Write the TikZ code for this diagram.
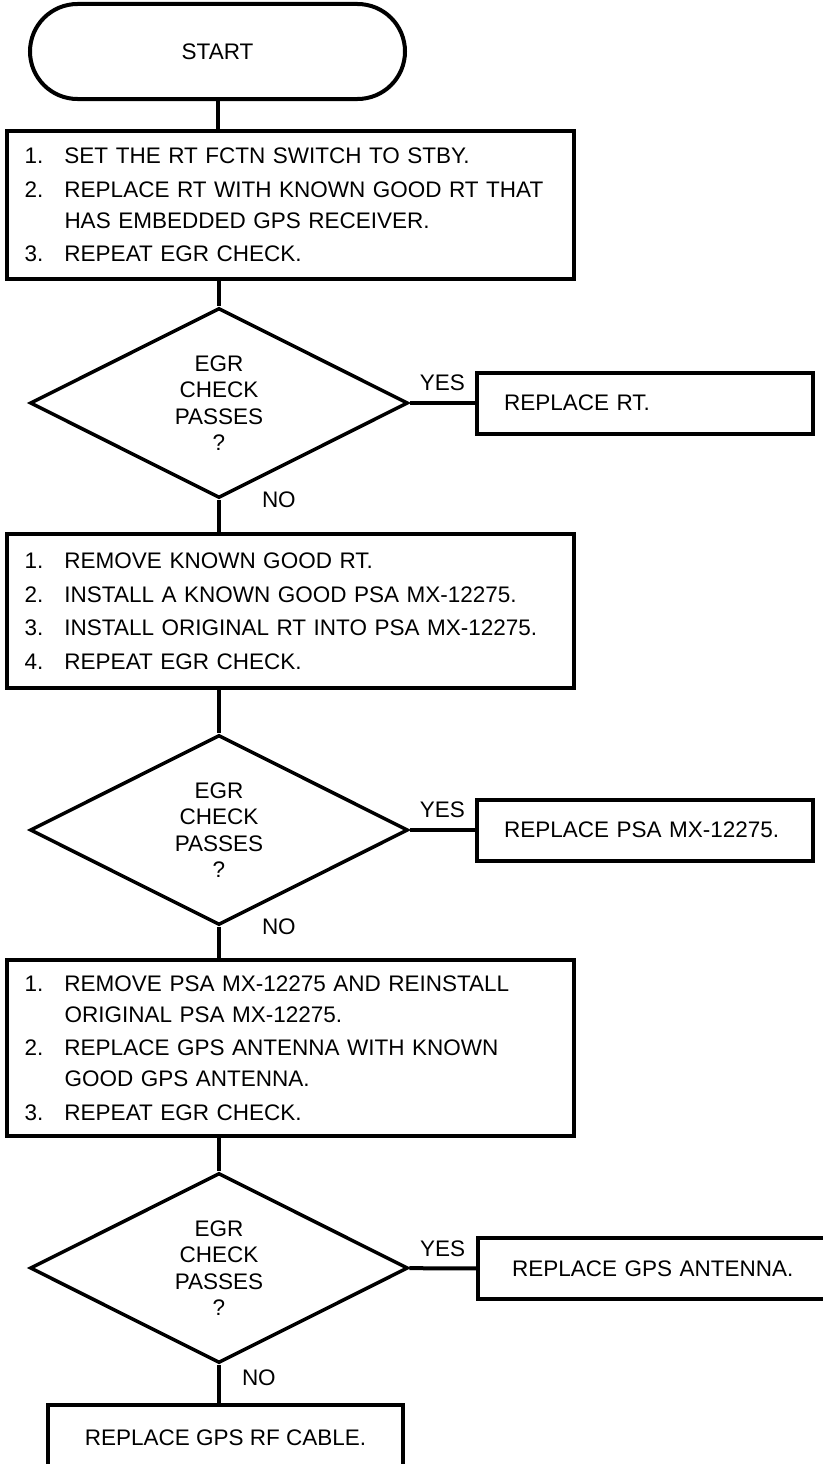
\documentclass[tikz,border=0pt]{standalone}
\usepackage{fontspec}
\setmainfont{Liberation Sans}
\usetikzlibrary{positioning,shapes.geometric}

\begin{document}
\begin{tikzpicture}[x=1pt, y=-1pt,
  font=\fontsize{22.5}{31}\selectfont,
  every node/.append style={align=center},
  term/.style={draw, line width=4pt, rounded corners=47.5pt, minimum width=375pt, minimum height=95pt},
  actbox/.style={draw, line width=4pt, text width=531pt, inner xsep=18pt, align=left},
  decide/.style={draw, diamond, line width=3.5pt, aspect=2, inner sep=0pt, minimum width=378pt, minimum height=190pt, font=\fontsize{22.5}{26.5}\selectfont},
  fixbox/.style={draw, line width=4pt, text width=282pt, inner xsep=27pt, align=left, minimum height=61pt},
  link/.style={line width=4pt},
  lbl/.style={inner sep=0pt},
]
\useasboundingbox (0,0) rectangle (822,1464);
% start and replacement of the RT
\node[term] (start) at (217.5,51.5) {START};
\node[actbox, minimum height=148pt] (act1) at (290,205) {%
  \makebox[40pt][l]{1.}SET THE RT FCTN SWITCH TO STBY.\\[2.5pt]
  \makebox[40pt][l]{2.}REPLACE RT WITH KNOWN GOOD RT THAT\\
  \hspace*{40pt}HAS EMBEDDED GPS RECEIVER.\\[2.5pt]
  \makebox[40pt][l]{3.}REPEAT EGR CHECK.};
\node[decide] (dia1) at (219,403) {EGR\\CHECK\\PASSES\\?};
\node[fixbox] (fix1) at (645,403) {REPLACE RT.};
\draw[link] (start) -- (start |- act1.north);
\draw[link] (act1.south -| dia1) -- (dia1);
\draw[link] (dia1) -- node[lbl, above=10pt] {YES} (fix1);
% swap of the PSA
\node[actbox, minimum height=154pt] (act2) at (290,611) {%
  \makebox[40pt][l]{1.}REMOVE KNOWN GOOD RT.\\[2.5pt]
  \makebox[40pt][l]{2.}INSTALL A KNOWN GOOD PSA MX-12275.\\[2.5pt]
  \makebox[40pt][l]{3.}INSTALL ORIGINAL RT INTO PSA MX-12275.\\[2.5pt]
  \makebox[40pt][l]{4.}REPEAT EGR CHECK.};
\node[decide] (dia2) at (219,830) {EGR\\CHECK\\PASSES\\?};
\node[fixbox] (fix2) at (645,830) {REPLACE PSA MX-12275.};
\draw[link] (dia1) -- node[lbl, pos=0, anchor=west, xshift=41pt] {NO} (dia1 |- act2.north);
\draw[link] (act2.south -| dia2) -- (dia2);
\draw[link] (dia2) -- node[lbl, above=10pt] {YES} (fix2);
% swap of the GPS antenna
\node[actbox, minimum height=176pt] (act3) at (290,1048) {%
  \makebox[40pt][l]{1.}REMOVE PSA MX-12275 AND REINSTALL\\
  \hspace*{40pt}ORIGINAL PSA MX-12275.\\[2.5pt]
  \makebox[40pt][l]{2.}REPLACE GPS ANTENNA WITH KNOWN\\
  \hspace*{40pt}GOOD GPS ANTENNA.\\[2.5pt]
  \makebox[40pt][l]{3.}REPEAT EGR CHECK.};
\node[decide] (dia3) at (219,1268) {EGR\\CHECK\\PASSES\\?};
\node[fixbox, minimum width=350pt] (fix3) at (653,1268.5) {REPLACE GPS ANTENNA.};
\node[draw, line width=4pt, minimum width=355pt, minimum height=66pt] (done) at (225.5,1438) {REPLACE GPS RF CABLE.};
\draw[link] (dia2) -- node[lbl, pos=0, anchor=west, xshift=41pt] {NO} (dia2 |- act3.north);
\draw[link] (act3.south -| dia3) -- (dia3);
\draw[link] (dia3) -- node[lbl, above=10pt] {YES} (fix3);
\draw[link] (dia3) -- node[lbl, pos=0.33, anchor=west, xshift=21pt] {NO} (dia3 |- done.north);
\end{tikzpicture}
\end{document}
